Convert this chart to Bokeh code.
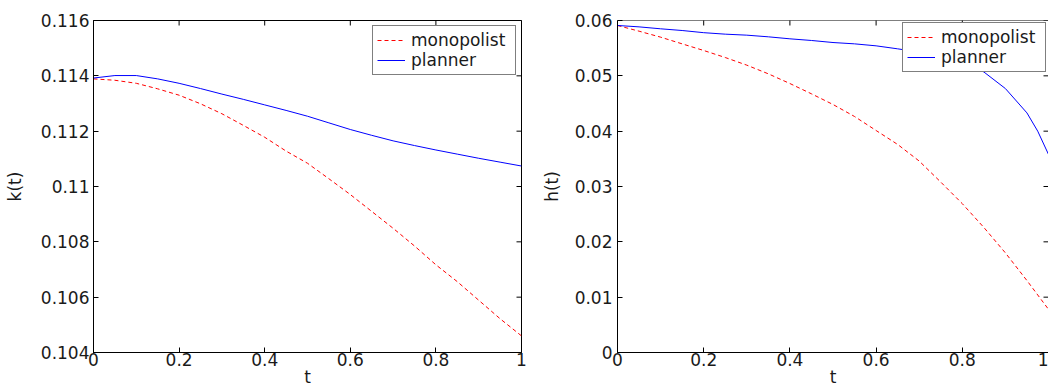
import math
from bokeh.plotting import figure
from bokeh.models import Range1d, FixedTicker, Span, Legend, LegendItem
from bokeh.layouts import row
from bokeh.embed import file_html
from bokeh.resources import INLINE

# ---------------- data ----------------
t_k = [0.0, 0.05, 0.1, 0.15, 0.2, 0.25, 0.3, 0.35, 0.4, 0.45, 0.5,
       0.55, 0.6, 0.65, 0.7, 0.75, 0.8, 0.85, 0.9, 0.95, 1.0]
k_planner = [0.11392, 0.11401, 0.11401, 0.11389, 0.11373, 0.11354, 0.11334,
             0.11315, 0.11295, 0.11275, 0.11254, 0.11230, 0.11206, 0.11185,
             0.11165, 0.11148, 0.11132, 0.11117, 0.11102, 0.11088, 0.11074]
k_monopolist = [0.11389, 0.11384, 0.11373, 0.11353, 0.11330, 0.11299, 0.11263,
                0.11221, 0.11178, 0.11128, 0.11084, 0.11028, 0.10971, 0.10910,
                0.10849, 0.10785, 0.10717, 0.10656, 0.10589, 0.10522, 0.10460]

t_h = [0.0, 0.05, 0.1, 0.15, 0.2, 0.25, 0.3, 0.35, 0.4, 0.45, 0.5,
       0.55, 0.6, 0.65, 0.7, 0.75, 0.8, 0.85, 0.9, 0.95, 0.975, 1.0]
h_planner = [0.0591, 0.05885, 0.0585, 0.05819, 0.0578, 0.05753, 0.05735,
             0.05705, 0.05669, 0.05639, 0.05602, 0.05578, 0.05542, 0.05488,
             0.0543, 0.0535, 0.0524, 0.0507, 0.0477, 0.0433, 0.0400, 0.0358]
h_monopolist = [0.0591, 0.05807, 0.05699, 0.05578, 0.05458, 0.05331, 0.05193,
                0.05036, 0.04861, 0.04675, 0.04482, 0.04265, 0.04012, 0.0376,
                0.0346, 0.0308, 0.0269, 0.0226, 0.0180, 0.0130, 0.0104, 0.0078]

x_ticks = [0.0, 0.2, 0.4, 0.6, 0.8, 1.0]
x_labels = ["0", "0.2", "0.4", "0.6", "0.8", "1"]
k_ticks = [0.104, 0.106, 0.108, 0.110, 0.112, 0.114, 0.116]
k_labels = ["0.104", "0.106", "0.108", "0.11", "0.112", "0.114", "0.116"]
h_ticks = [0.0, 0.01, 0.02, 0.03, 0.04, 0.05, 0.06]
h_labels = ["0", "0.01", "0.02", "0.03", "0.04", "0.05", "0.06"]

FONT = "DejaVu Sans"
FS = "17px"
TXT = "#1a1a1a"
AX = "#000000"
RED = "#FF0000"
BLUE = "#0000FF"
DASH = "4 3"


def style_axis(ax, ticks, labels, standoff):
    ax.ticker = FixedTicker(ticks=ticks)
    ax.major_label_overrides = {tk: lb for tk, lb in zip(ticks, labels)}
    ax.major_tick_in = 5
    ax.major_tick_out = 0
    ax.minor_tick_in = 0
    ax.minor_tick_out = 0
    ax.axis_line_color = AX
    ax.major_tick_line_color = AX
    ax.axis_line_width = 1
    ax.major_label_text_font = FONT
    ax.major_label_text_font_size = FS
    ax.major_label_text_color = TXT
    ax.major_label_standoff = standoff
    ax.axis_label_text_font = FONT
    ax.axis_label_text_font_size = FS
    ax.axis_label_text_font_style = "normal"
    ax.axis_label_text_color = TXT


def make_panel(width, min_left, min_right, min_top, y0, y1, yticks, ylabels,
               ylab, t, planner, monopolist, ystand, ylabstand, legend_margin,
               full_box=True):
    p = figure(width=width, height=390, output_backend="svg",
               toolbar_location=None, x_range=Range1d(0, 1),
               y_range=Range1d(y0, y1), x_axis_label="t", y_axis_label=ylab,
               min_border_left=min_left, min_border_right=min_right,
               min_border_top=min_top, min_border_bottom=38)
    p.xgrid.visible = False
    p.ygrid.visible = False
    p.background_fill_color = "white"
    p.border_fill_color = "white"
    style_axis(p.xaxis[0], x_ticks, x_labels, 0)
    p.xaxis[0].axis_label_standoff = -2
    style_axis(p.yaxis[0], yticks, ylabels, ystand)
    p.yaxis[0].axis_label_standoff = ylabstand

    if full_box:
        p.outline_line_color = AX
        p.outline_line_width = 1
    else:
        p.outline_line_color = None
        p.add_layout(Span(location=y1, dimension="width", line_color=AX,
                          line_width=1))

    r_m = p.line(t, monopolist, line_color=RED, line_width=1, line_dash=DASH)
    r_p = p.line(t, planner, line_color=BLUE, line_width=1)

    # inward tick marks on the top and right edges (half clipped by frame)
    p.scatter(x_ticks, [y1] * len(x_ticks), marker="dash",
              size=10, angle=math.pi / 2, line_color=AX, line_width=1)
    p.scatter([1.0] * len(yticks), yticks, marker="dash", size=10,
              line_color=AX, line_width=1)

    lg = Legend(items=[LegendItem(label="monopolist", renderers=[r_m]),
                       LegendItem(label="planner", renderers=[r_p])],
                location="top_right", margin=legend_margin, padding=4,
                spacing=0, glyph_width=28, glyph_height=20, label_height=20,
                label_width=100, label_standoff=6,
                label_text_font=FONT, label_text_font_size=FS,
                label_text_color=TXT, border_line_color=AX,
                border_line_width=1, background_fill_color="white",
                background_fill_alpha=1.0)
    p.add_layout(lg, "center")
    return p


p1 = make_panel(538, 93, 17, 16, 0.104, 0.116, k_ticks, k_labels,
                "k(t)", t_k, k_planner, k_monopolist, 4, 13, 5, True)
p2 = make_panel(510, 77, 0, 20, 0.0, 0.06, h_ticks, h_labels,
                "h(t)", t_h, h_planner, h_monopolist, 5, 10, 2, False)

layout = row(p1, p2)

with open("out.html", "w") as f:
    f.write(file_html(layout, INLINE))
